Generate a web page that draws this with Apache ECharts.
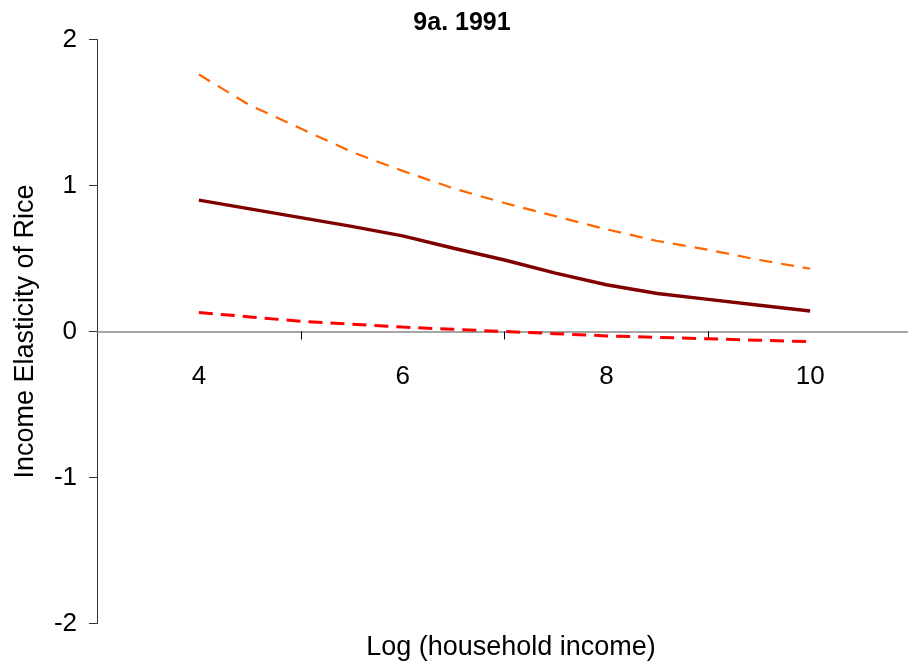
<!DOCTYPE html>
<html>
<head>
<meta charset="utf-8">
<script src="https://cdn.jsdelivr.net/npm/echarts@6/dist/echarts.min.js"></script>
<style>html,body{margin:0;padding:0;background:#fff;}#c{width:908px;height:664px;}</style>
</head>
<body>
<div id="c"></div>
<script>
const xValues = [4, 4.5, 5, 5.5, 6, 6.5, 7, 7.5, 8, 8.5, 9, 9.5, 10];
const estimate = [0.90, 0.84, 0.78, 0.72, 0.655, 0.57, 0.49, 0.40, 0.32, 0.26, 0.22, 0.18, 0.14];
const upperBound = [1.76, 1.55, 1.39, 1.23, 1.10, 0.98, 0.88, 0.79, 0.70, 0.62, 0.56, 0.49, 0.43];
const lowerBound = [0.13, 0.10, 0.07, 0.05, 0.03, 0.015, 0.0, -0.015, -0.03, -0.04, -0.05, -0.06, -0.07];
const xTickLabels = [4, 6, 8, 10];
const xTickMarks = [5, 7, 9];

const pair = (ys) => xValues.map((x, i) => [x, ys[i]]);
const font = 'Liberation Sans, Arial, sans-serif';

const chart = echarts.init(document.getElementById('c'));
chart.setOption({
  animation: false,
  backgroundColor: '#fff',
  title: [
    { text: '9a. 1991', left: 457, top: 6, textAlign: 'center',
      textStyle: { fontFamily: font, fontSize: 25, fontWeight: 'bold', color: '#000' } },
    { text: 'Log (household income)', left: 506, top: 629, textAlign: 'center',
      textStyle: { fontFamily: font, fontSize: 27, fontWeight: 'normal', color: '#000' } }
  ],
  grid: { left: 97, top: 39.5, width: 815, height: 584, containLabel: false, outerBoundsMode: 'none' },
  xAxis: {
    type: 'value', min: 3, max: 11, interval: 1, position: 'bottom', offset: -292,
    axisLine: { onZero: false, lineStyle: { color: '#888', width: 1.5 } },
    axisTick: { show: true, customValues: xTickMarks, inside: false, length: 8, lineStyle: { color: '#000', width: 1 } },
    axisLabel: { customValues: xTickLabels, margin: 32, fontFamily: font, fontSize: 26, color: '#000' },
    splitLine: { show: false }
  },
  yAxis: {
    type: 'value', min: -2, max: 2, interval: 1,
    name: 'Income Elasticity of Rice', nameLocation: 'middle', nameGap: 58,
    nameTextStyle: { fontFamily: font, fontSize: 27, color: '#000' },
    axisLine: { show: true, onZero: false, lineStyle: { color: '#333', width: 1 } },
    axisTick: { show: true, length: 8, lineStyle: { color: '#333', width: 1 } },
    axisLabel: { margin: 20, fontFamily: font, fontSize: 26, color: '#000' },
    splitLine: { show: false }
  },
  series: [
    { type: 'line', data: pair(upperBound), showSymbol: false, symbol: 'none',
      lineStyle: { color: '#FF6600', width: 2.2, type: [13, 9] } },
    { type: 'line', data: pair(estimate), showSymbol: false, symbol: 'none',
      lineStyle: { color: '#800000', width: 3.5, type: 'solid' } },
    { type: 'line', data: pair(lowerBound), showSymbol: false, symbol: 'none',
      lineStyle: { color: '#FF0000', width: 3, type: [14, 8] } }
  ]
});
</script>
</body>
</html>
